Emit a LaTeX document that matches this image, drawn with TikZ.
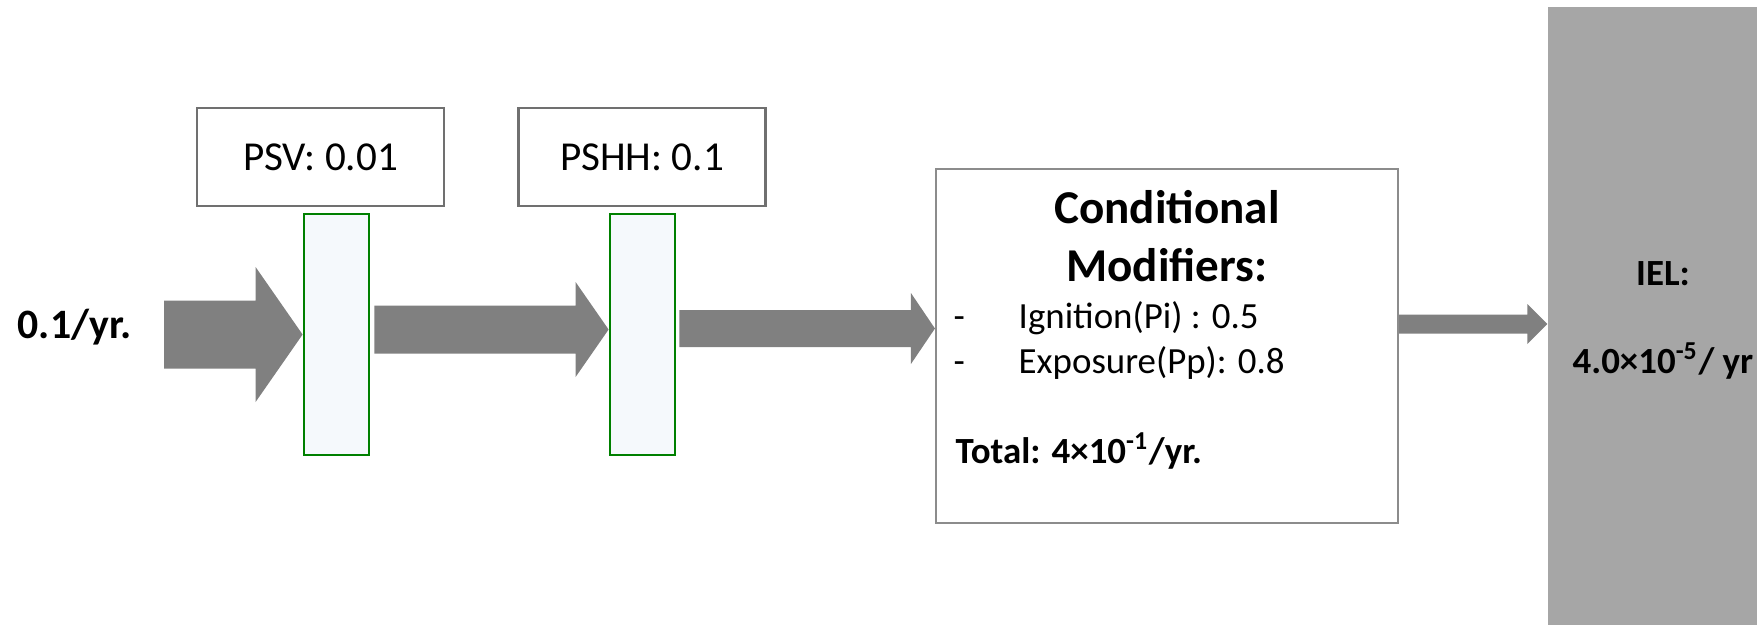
\documentclass[tikz,border=0pt]{standalone}
\usepackage{fontspec}
\setmainfont{Carlito}
\usetikzlibrary{calc}

\definecolor{arrowgray}{RGB}{128,128,128}
\definecolor{ielgray}{RGB}{166,166,166}
\definecolor{barfill}{RGB}{245,249,252}
\definecolor{bargreen}{RGB}{0,128,0}
\definecolor{boxline}{RGB}{112,112,112}
\definecolor{condline}{RGB}{140,140,140}

% block arrow: from, to, shaft half height, head half height, head length
\newcommand{\fatarrow}[5]{%
  \fill[arrowgray] ($(#1)+(0,#3)$) -- ($(#2)+(-#5,#3)$) -- ($(#2)+(-#5,#4)$)
  -- (#2) -- ($(#2)+(-#5,-#4)$) -- ($(#2)+(-#5,-#3)$) -- ($(#1)+(0,-#3)$) -- cycle;}

\begin{document}
\begin{tikzpicture}
      % Define styles for nodes
      \tikzstyle{probbox} = [draw=boxline, line width=0.6pt, rectangle,
      fill=white, minimum width=2.47cm, minimum height=0.98cm, inner sep=0pt,
      font=\fontsize{11.7}{14}\selectfont]
      \tikzstyle{barrier} = [draw=bargreen, line width=0.8pt, rectangle,
      fill=barfill, minimum width=0.65cm, minimum height=2.41cm, inner sep=0pt]
      \tikzstyle{modbox} = [draw=condline, line width=0.6pt, rectangle,
      fill=white, minimum width=4.62cm, minimum height=3.54cm, inner sep=0pt]
      \tikzstyle{ielbox} = [fill=ielgray, rectangle, minimum width=2.09cm,
      minimum height=6.18cm, inner sep=0pt]
      \tikzstyle{plain} = [inner sep=0pt, font=\fontsize{10.5}{12.6}\selectfont]
      \tikzstyle{heavy} = [inner sep=0pt,
      font=\fontsize{10.5}{12.6}\selectfont\bfseries]

      % Page size
      \useasboundingbox (0,0) rectangle (17.57,6.25);

      % Boxes
      \node[probbox] (psv) at (3.205,4.68) {PSV: 0.01};
      \node[probbox] (pshh) at (6.42,4.68) {PSHH: 0.1};
      \node[barrier] (g1) at (3.365,2.905) {};
      \node[barrier] (g2) at (6.425,2.905) {};
      \node[modbox] (cond) at (11.67,2.79) {};
      \node[ielbox] (iel) at (16.525,3.09) {};

      % Initiating frequency
      \node[heavy, font=\fontsize{11.9}{14}\selectfont\bfseries, anchor=base]
      (rate) at (0.745,2.87) {0.1/yr.};

      % Arrows
      \coordinate (a1s) at (1.64,2.905);
      \fatarrow{a1s}{g1.west}{.34}{.675}{.47}
      \coordinate (a2s) at ([xshift=.04cm,yshift=.05cm]g1.east);
      \coordinate (a2e) at ([yshift=.05cm]g2.west);
      \fatarrow{a2s}{a2e}{.24}{.475}{.33}
      \coordinate (a3s) at ([xshift=.03cm,yshift=.06cm]g2.east);
      \coordinate (a3e) at (cond.west |- a3s);
      \fatarrow{a3s}{a3e}{.185}{.355}{.24}
      \coordinate (a4s) at ([yshift=.22cm]cond.east);
      \coordinate (a4e) at (iel.west |- a4s);
      \fatarrow{a4s}{a4e}{.095}{.20}{.20}

      % Conditional modifiers text
      \node[heavy, font=\fontsize{13.4}{16}\selectfont\bfseries, anchor=base]
      (condtitle) at (11.67,4.02) {Conditional};
      \node[heavy, font=\fontsize{13.4}{16}\selectfont\bfseries, anchor=base]
      (condtitle2) at (11.67,3.44) {Modifiers:};
      \node[plain, anchor=base west] (dash1) at (9.53,2.97) {-};
      \node[plain, anchor=base west] (ign) at (10.18,2.97) {Ignition(Pi) : 0.5};
      \node[plain, anchor=base west] (dash2) at (9.53,2.52) {-};
      \node[plain, anchor=base west] (expo) at (10.18,2.52) {Exposure(Pp): 0.8};
      \node[heavy, anchor=base west] (total) at (9.55,1.62)
      {Total: 4×10\textsuperscript{-1}/yr.};

      % IEL result
      \node[heavy, anchor=base] (ielhead) at (16.63,3.40) {IEL:};
      \node[heavy, anchor=base] (ielval) at (16.63,2.52)
      {4.0×10\textsuperscript{-5}/ yr};
\end{tikzpicture}
\end{document}
